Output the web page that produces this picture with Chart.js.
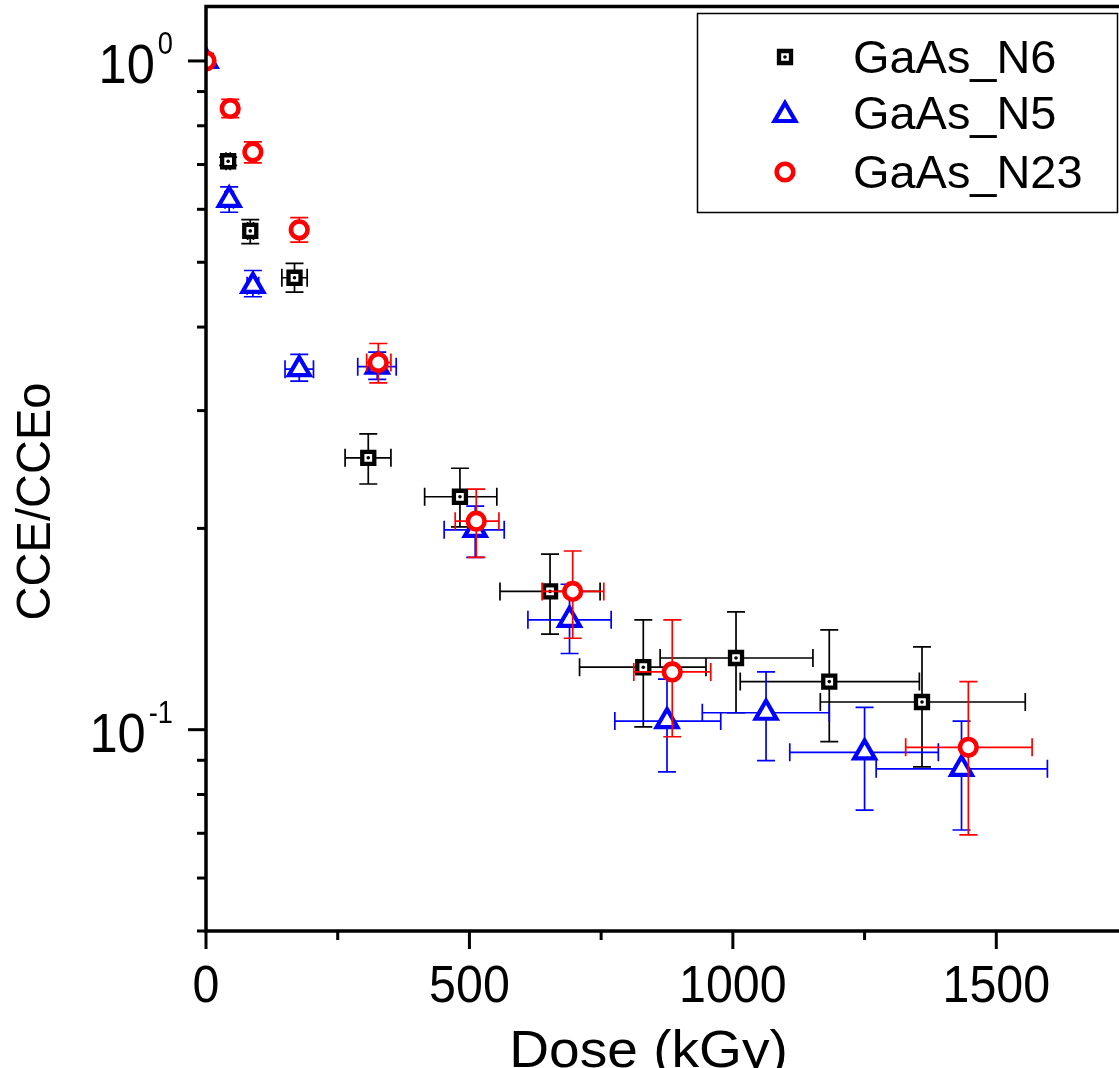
<!DOCTYPE html>
<html>
<head>
<meta charset="utf-8">
<script src="https://cdn.jsdelivr.net/npm/chart.js@4/dist/chart.umd.min.js"></script>
<style>
html,body{margin:0;padding:0;overflow:hidden;background:#fff;}
#wrap{width:1135px;height:1068px;}
canvas{display:block;}
</style>
</head>
<body>
<div id="wrap"><canvas id="c" width="1135" height="1068" style="width:1135px;height:1068px"></canvas></div>
<script>
// ---- data (dose in kGy, CCE/CCE0 with error bounds) ----
const seriesNames = ['GaAs_N6', 'GaAs_N5', 'GaAs_N23'];

const n6Dose   = [0, 42, 84, 168, 308, 482, 653, 830, 1006, 1183, 1359];
const n6Cce    = [1.0, 0.708, 0.557, 0.474, 0.255, 0.223, 0.161, 0.124, 0.128, 0.118, 0.110];
const n6DoseLo = [0, 38, 79, 144, 264, 415, 558, 709, 862, 1014, 1166];
const n6DoseHi = [0, 46, 90, 192, 351, 552, 748, 949, 1152, 1354, 1555];
const n6CceLo  = [1.0, 0.698, 0.533, 0.451, 0.233, 0.201, 0.139, 0.101, 0.106, 0.096, 0.088];
const n6CceHi  = [1.0, 0.718, 0.579, 0.498, 0.277, 0.246, 0.183, 0.146, 0.150, 0.141, 0.133];

const n5Dose   = [0, 44, 89, 177, 325, 511, 690, 875, 1063, 1250, 1434];
const n5Cce    = [1.0, 0.620, 0.461, 0.346, 0.349, 0.199, 0.146, 0.103, 0.106, 0.0925, 0.0874];
const n5DoseLo = [0, 36, 78, 150, 288, 452, 611, 776, 942, 1108, 1272];
const n5DoseHi = [0, 52, 100, 204, 361, 566, 769, 977, 1183, 1390, 1597];
const n5CceLo  = [1.0, 0.594, 0.444, 0.332, 0.334, 0.181, 0.130, 0.0865, 0.0899, 0.0758, 0.0708];
const n5CceHi  = [1.0, 0.648, 0.486, 0.364, 0.367, 0.216, 0.165, 0.119, 0.122, 0.108, 0.103];

const n23Dose   = [0, 46, 89, 177, 327, 513, 696, 885, 1447];
const n23Cce    = [1.0, 0.849, 0.731, 0.559, 0.354, 0.205, 0.161, 0.122, 0.0941];
const n23DoseLo = [0, 36, 80, 168, 305, 473, 638, 812, 1328];
const n23DoseHi = [0, 56, 97, 186, 351, 556, 755, 958, 1568];
const n23CceLo  = [1.0, 0.823, 0.704, 0.536, 0.330, 0.181, 0.137, 0.0976, 0.0696];
const n23CceHi  = [1.0, 0.876, 0.757, 0.583, 0.378, 0.229, 0.185, 0.146, 0.118];

// ticks
const xMajorTicks = [0, 500, 1000, 1500];
const xMinorTicks = [250, 750, 1250];
const yMajorTicks = [1, 0.1];
const yMajorExp   = ['0', '-1'];
const yMinorTicks = [0.05, 0.06, 0.07, 0.08, 0.09, 0.2, 0.3, 0.4, 0.5, 0.6, 0.7, 0.8, 0.9];

const xTitle = 'Dose (kGy)';
const yTitle = 'CCE/CCEo';

// ---- helpers ----
function pts(xs, ys) { return xs.map((x, i) => ({x: x, y: ys[i]})); }
const FONT = '"Liberation Sans", Arial, Helvetica, sans-serif';
function txt(ctx, s, x, y, size, sx, align) {
  ctx.save();
  ctx.translate(x, y);
  ctx.scale(sx, 1);
  ctx.font = size + 'px ' + FONT;
  ctx.textAlign = align;
  ctx.textBaseline = 'alphabetic';
  ctx.fillStyle = '#000';
  ctx.fillText(s, 0, 0);
  ctx.restore();
}
function marker(ctx, style, x, y, r, color, bw) {
  ctx.save();
  ctx.fillStyle = '#fff';
  ctx.strokeStyle = color;
  ctx.lineWidth = bw;
  ctx.beginPath();
  if (style === 'rect') {
    const s = Math.SQRT1_2 * r;
    ctx.rect(x - s, y - s, 2 * s, 2 * s);
  } else if (style === 'triangle') {
    let a = 0;
    ctx.moveTo(x + Math.sin(a) * r, y - Math.cos(a) * r);
    a += 2 * Math.PI / 3;
    ctx.lineTo(x + Math.sin(a) * r, y - Math.cos(a) * r);
    a += 2 * Math.PI / 3;
    ctx.lineTo(x + Math.sin(a) * r, y - Math.cos(a) * r);
    ctx.closePath();
  } else {
    ctx.arc(x, y, r, 0, Math.PI * 2);
  }
  ctx.fill();
  ctx.stroke();
  if (style === 'rect') {
    ctx.fillStyle = color;
    ctx.beginPath();
    ctx.arc(x, y, 1.8, 0, Math.PI * 2);
    ctx.fill();
  }
  ctx.restore();
}

const errData = [
  {xl: n6DoseLo, xh: n6DoseHi, yl: n6CceLo, yh: n6CceHi, color: '#000000'},
  {xl: n5DoseLo, xh: n5DoseHi, yl: n5CceLo, yh: n5CceHi, color: '#0000ff'},
  {xl: n23DoseLo, xh: n23DoseHi, yl: n23CceLo, yh: n23CceHi, color: '#ff0000'}
];
const styles = [
  {pointStyle: 'rect', radius: 8.5, bw: 4.3, color: '#000000'},
  {pointStyle: 'triangle', radius: 12, bw: 4.2, color: '#0000ff'},
  {pointStyle: 'circle', radius: 8.3, bw: 4.6, color: '#ff0000'}
];

const errorBarPlugin = {
  id: 'errbars',
  beforeDatasetDraw(chart, args) {
    const i = args.index;
    const e = errData[i];
    const xs = chart.scales.x, ys = chart.scales.y;
    const ctx = chart.ctx;
    const cap = 9;
    ctx.save();
    ctx.strokeStyle = e.color;
    ctx.lineWidth = 1.7;
    args.meta.data.forEach((pt, k) => {
      const px = pt.x, py = pt.y;
      if (e.yl[k] !== e.yh[k]) {
        const y1 = ys.getPixelForValue(e.yl[k]);
        const y2 = ys.getPixelForValue(e.yh[k]);
        ctx.beginPath();
        ctx.moveTo(px, y1); ctx.lineTo(px, y2);
        ctx.moveTo(px - cap, y1); ctx.lineTo(px + cap, y1);
        ctx.moveTo(px - cap, y2); ctx.lineTo(px + cap, y2);
        ctx.stroke();
      }
      if (e.xl[k] !== e.xh[k]) {
        const x1 = xs.getPixelForValue(e.xl[k]);
        const x2 = xs.getPixelForValue(e.xh[k]);
        ctx.beginPath();
        ctx.moveTo(x1, py); ctx.lineTo(x2, py);
        ctx.moveTo(x1, py - cap); ctx.lineTo(x1, py + cap);
        ctx.moveTo(x2, py - cap); ctx.lineTo(x2, py + cap);
        ctx.stroke();
      }
    });
    ctx.restore();
  },
  afterDatasetDraw(chart, args) {
    if (args.index !== 0) return;
    const ctx = chart.ctx;
    const area = chart.chartArea;
    ctx.save();
    ctx.fillStyle = '#000';
    args.meta.data.forEach(pt => {
      if (pt.x < area.left + 2) return;
      ctx.beginPath();
      ctx.arc(pt.x, pt.y, 1.8, 0, Math.PI * 2);
      ctx.fill();
    });
    ctx.restore();
  }
};

const axesPlugin = {
  id: 'axesframe',
  afterDatasetsDraw(chart) {
    const ctx = chart.ctx;
    const a = chart.chartArea;
    const xs = chart.scales.x, ys = chart.scales.y;
    const lw = 3.5;
    ctx.save();
    ctx.strokeStyle = '#000';
    ctx.lineWidth = lw;
    ctx.lineCap = 'butt';
    // frame
    ctx.beginPath();
    ctx.moveTo(a.left, a.top - 1.5);
    ctx.lineTo(a.left, a.bottom + lw / 2);
    ctx.moveTo(a.left - lw / 2, a.bottom);
    ctx.lineTo(a.right, a.bottom);
    ctx.moveTo(a.left - lw / 2, a.top - 1.5);
    ctx.lineTo(a.right, a.top - 1.5);
    ctx.stroke();
    // x ticks
    ctx.lineWidth = 3;
    xMajorTicks.forEach(v => {
      const p = xs.getPixelForValue(v);
      ctx.beginPath(); ctx.moveTo(p, a.bottom); ctx.lineTo(p, a.bottom + 18); ctx.stroke();
    });
    xMinorTicks.forEach(v => {
      const p = xs.getPixelForValue(v);
      ctx.beginPath(); ctx.moveTo(p, a.bottom); ctx.lineTo(p, a.bottom + 9); ctx.stroke();
    });
    // y ticks
    yMajorTicks.forEach(v => {
      const p = ys.getPixelForValue(v);
      ctx.beginPath(); ctx.moveTo(a.left, p); ctx.lineTo(a.left - 18, p); ctx.stroke();
    });
    yMinorTicks.forEach(v => {
      const p = ys.getPixelForValue(v);
      ctx.beginPath(); ctx.moveTo(a.left, p); ctx.lineTo(a.left - 9, p); ctx.stroke();
    });
    ctx.restore();

    // x tick labels
    xMajorTicks.forEach(v => {
      const p = xs.getPixelForValue(v);
      txt(ctx, String(v), p, a.bottom + 71, 52, 0.93, 'center');
    });
    // y tick labels 10^n
    yMajorTicks.forEach((v, i) => {
      const p = ys.getPixelForValue(v);
      const supRight = 173;
      ctx.save();
      ctx.font = '31px ' + FONT;
      const supW = ctx.measureText(yMajorExp[i]).width * 0.88;
      ctx.restore();
      txt(ctx, yMajorExp[i], supRight, p - 6.5, 31, 0.88, 'right');
      txt(ctx, '10', supRight - supW - 3, p + 22, 55, 0.92, 'right');
    });
    // axis titles
    txt(ctx, xTitle, xs.getPixelForValue(840), 1067, 52, 1.06, 'center');
    ctx.save();
    ctx.translate(50, (a.top + a.bottom) / 2 + 32);
    ctx.rotate(-Math.PI / 2);
    ctx.scale(0.96, 1);
    ctx.font = '49px ' + FONT;
    ctx.textAlign = 'center';
    ctx.textBaseline = 'alphabetic';
    ctx.fillStyle = '#000';
    ctx.fillText(yTitle, 0, 0);
    ctx.restore();
  },
  afterDraw(chart) {
    const ctx = chart.ctx;
    // legend box
    ctx.save();
    ctx.fillStyle = '#fff';
    ctx.fillRect(697, 13, 421, 200);
    ctx.strokeStyle = '#000';
    ctx.lineWidth = 1.5;
    ctx.strokeRect(697.5, 13.5, 420, 199);
    ctx.restore();
    const rows = [57, 113, 172];
    seriesNames.forEach((n, i) => {
      const s = styles[i];
      marker(ctx, s.pointStyle, 785, rows[i] + (s.pointStyle === 'triangle' ? 2 : 0), s.radius, s.color, s.bw);
      txt(ctx, n, 853, rows[i] + 16, 46, 1.02, 'left');
    });
  }
};

const datasets = [
  {label: seriesNames[0], data: pts(n6Dose, n6Cce), order: 2},
  {label: seriesNames[1], data: pts(n5Dose, n5Cce), order: 1},
  {label: seriesNames[2], data: pts(n23Dose, n23Cce), order: 0}
].map((d, i) => Object.assign(d, {
  showLine: false,
  pointStyle: styles[i].pointStyle,
  pointRadius: styles[i].radius,
  pointHoverRadius: styles[i].radius,
  pointBorderWidth: styles[i].bw,
  pointBorderColor: styles[i].color,
  pointBackgroundColor: '#ffffff',
  borderColor: styles[i].color,
  backgroundColor: '#ffffff'
}));

new Chart(document.getElementById('c'), {
  type: 'scatter',
  data: {datasets: datasets},
  options: {
    responsive: false,
    animation: false,
    devicePixelRatio: 1,
    layout: {autoPadding: false, padding: {left: 206, right: 7, top: 8, bottom: 137}},
    plugins: {legend: {display: false}, tooltip: {enabled: false}, title: {display: false}},
    scales: {
      x: {type: 'linear', min: 0, max: 1750, display: false},
      y: {type: 'logarithmic', min: 0.05, max: 1.2, display: false}
    }
  },
  plugins: [errorBarPlugin, axesPlugin]
});
</script>
</body>
</html>
